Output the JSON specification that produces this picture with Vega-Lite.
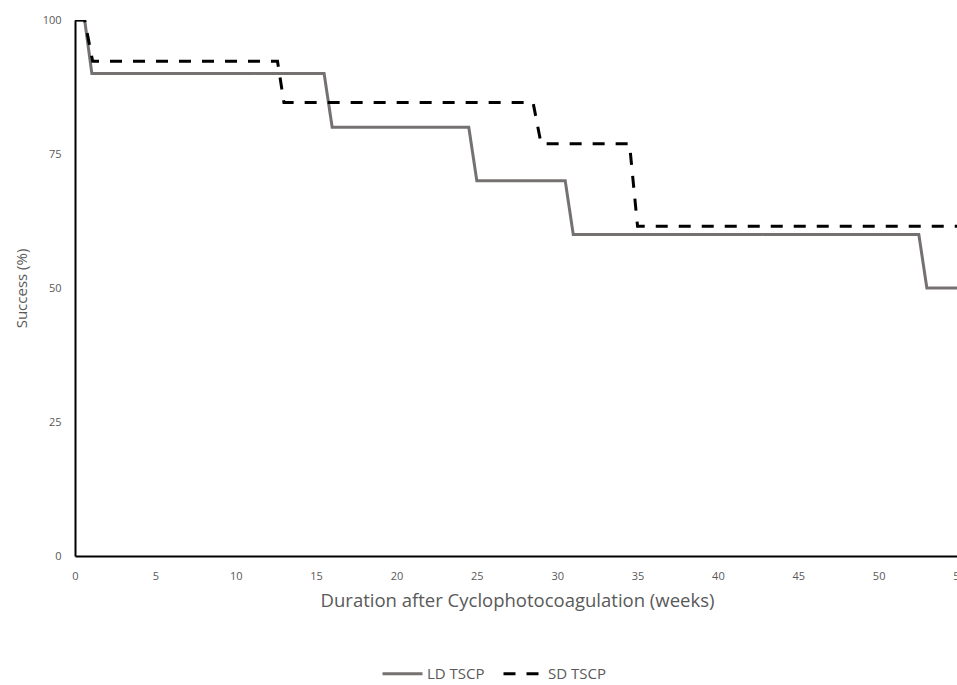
{
  "$schema": "https://vega.github.io/schema/vega-lite/v6.json",
  "autosize": {"type": "none"},
  "padding": {"left": 75, "top": 20, "right": 0, "bottom": 129},
  "width": 884,
  "height": 536,
  "background": "white",
  "config": {
    "view": {"stroke": null},
    "font": "Open Sans"
  },
  "data": {
    "values": [
      {"week": 0, "success": 100, "group": "LD TSCP"},
      {"week": 0.6, "success": 100, "group": "LD TSCP"},
      {"week": 1.05, "success": 90, "group": "LD TSCP"},
      {"week": 15.5, "success": 90, "group": "LD TSCP"},
      {"week": 16.0, "success": 80, "group": "LD TSCP"},
      {"week": 24.5, "success": 80, "group": "LD TSCP"},
      {"week": 25.0, "success": 70, "group": "LD TSCP"},
      {"week": 30.5, "success": 70, "group": "LD TSCP"},
      {"week": 31.0, "success": 60, "group": "LD TSCP"},
      {"week": 52.5, "success": 60, "group": "LD TSCP"},
      {"week": 53.0, "success": 50, "group": "LD TSCP"},
      {"week": 55, "success": 50, "group": "LD TSCP"},
      {"week": 0, "success": 100, "group": "SD TSCP"},
      {"week": 0.6, "success": 100, "group": "SD TSCP"},
      {"week": 1.1, "success": 92.3, "group": "SD TSCP"},
      {"week": 12.6, "success": 92.3, "group": "SD TSCP"},
      {"week": 13.0, "success": 84.6, "group": "SD TSCP"},
      {"week": 28.5, "success": 84.6, "group": "SD TSCP"},
      {"week": 29.0, "success": 76.9, "group": "SD TSCP"},
      {"week": 34.5, "success": 76.9, "group": "SD TSCP"},
      {"week": 35.0, "success": 61.5, "group": "SD TSCP"},
      {"week": 55, "success": 61.5, "group": "SD TSCP"}
    ]
  },
  "mark": {"type": "line", "strokeWidth": 3, "clip": true},
  "encoding": {
    "x": {
      "field": "week",
      "type": "quantitative",
      "scale": {"domain": [0, 55], "nice": false, "zero": false},
      "axis": {
        "title": "Duration after Cyclophotocoagulation (weeks)",
        "titleFontSize": 18.5,
        "titleFontWeight": "normal",
        "titleColor": "#595959",
        "titlePadding": 10,
        "values": [0, 5, 10, 15, 20, 25, 30, 35, 40, 45, 50, 55],
        "grid": false,
        "ticks": false,
        "domainColor": "#000000",
        "domainWidth": 2,
        "labelFontSize": 11,
        "labelColor": "#595959",
        "labelPadding": 14,
        "labelFlush": false,
        "labelOverlap": false
      }
    },
    "y": {
      "field": "success",
      "type": "quantitative",
      "scale": {"domain": [0, 100], "nice": false},
      "axis": {
        "title": "Success (%)",
        "titleFontSize": 15,
        "titleFontWeight": "normal",
        "titleColor": "#595959",
        "titlePadding": 13,
        "values": [0, 25, 50, 75, 100],
        "grid": false,
        "ticks": false,
        "domainColor": "#000000",
        "domainWidth": 2,
        "labelFontSize": 11,
        "labelColor": "#595959",
        "labelPadding": 14
      }
    },
    "color": {
      "field": "group",
      "type": "nominal",
      "scale": {"domain": ["LD TSCP", "SD TSCP"], "range": ["#767171", "#000000"]},
      "legend": {
        "title": null,
        "orient": "none",
        "legendX": 306,
        "legendY": 632,
        "direction": "horizontal",
        "symbolType": "stroke",
        "symbolSize": 1600,
        "symbolStrokeWidth": 3,
        "labelFontSize": 15,
        "labelColor": "#595959",
        "labelOffset": 3,
        "columnPadding": 12
      }
    },
    "strokeDash": {
      "field": "group",
      "type": "nominal",
      "scale": {"domain": ["LD TSCP", "SD TSCP"], "range": [[1, 0], [12, 11]]},
      "legend": {
        "title": null,
        "orient": "none",
        "legendX": 306,
        "legendY": 632,
        "direction": "horizontal",
        "symbolType": "stroke",
        "symbolSize": 1600,
        "symbolStrokeWidth": 3,
        "labelFontSize": 15,
        "labelColor": "#595959",
        "labelOffset": 3,
        "columnPadding": 12
      }
    }
  }
}
